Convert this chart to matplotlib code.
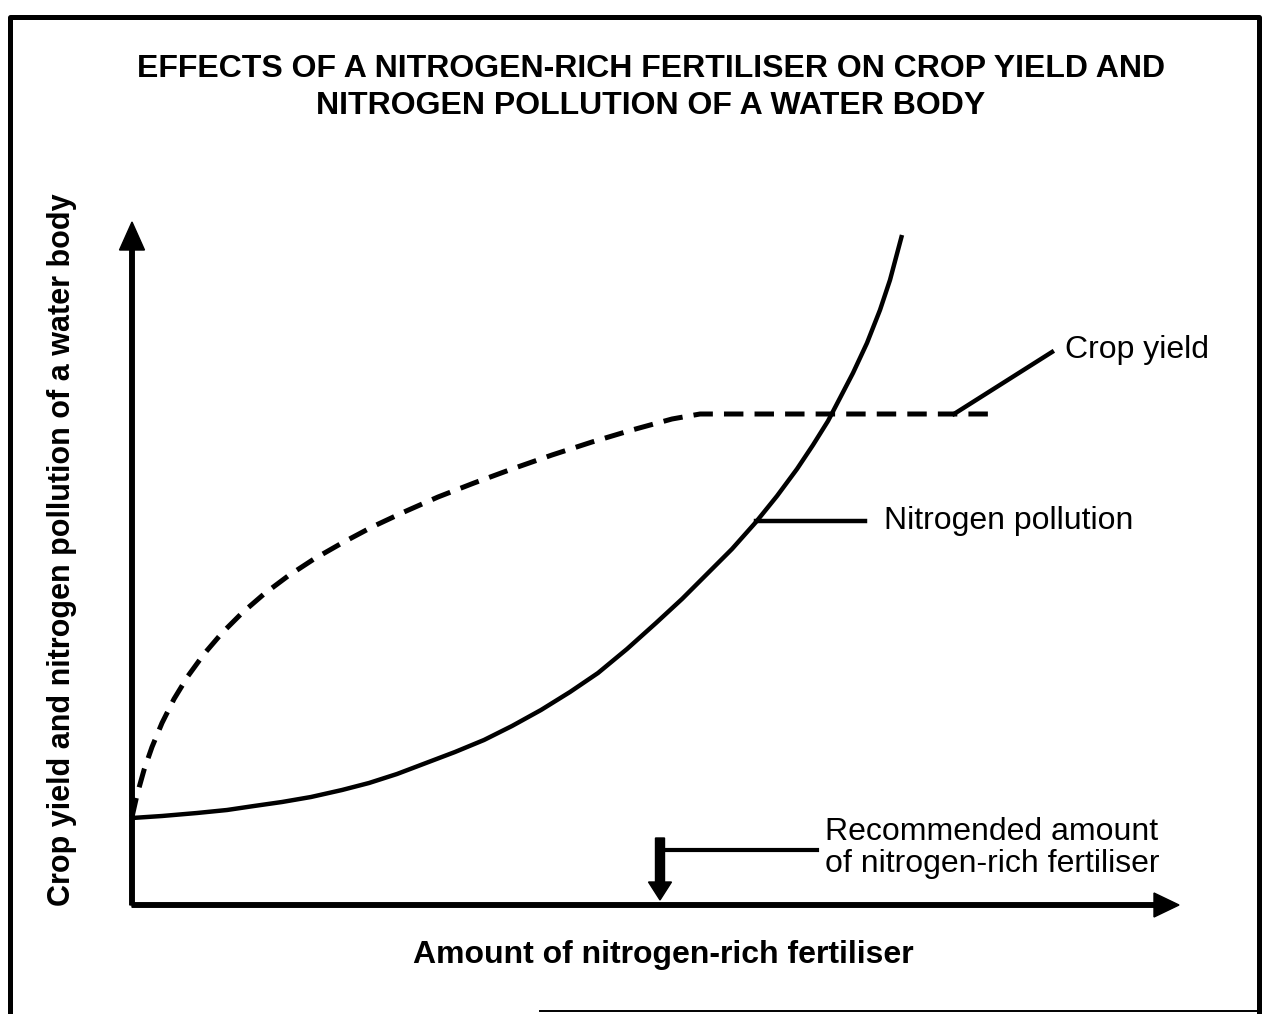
import matplotlib
matplotlib.use("Agg")
import matplotlib.pyplot as plt
from matplotlib.lines import Line2D

plt.rcParams["font.family"] = ["Liberation Sans", "DejaVu Sans"]
plt.rcParams["lines.scale_dashes"] = False

# curve values (amount of fertiliser, level)
pollution_x = [0.0, 3.0, 6.5, 9.5, 12.2, 15.0, 17.9, 21.0, 23.7, 26.5, 29.4,
               32.3, 35.2, 38.0, 40.9, 43.8, 46.6, 49.5, 52.4, 55.0, 57.5,
               60.0, 62.4, 64.5, 66.5, 68.1, 69.6, 70.8, 72.1, 73.5, 74.8,
               75.8, 77.0]
pollution_y = [8.7, 8.9, 9.2, 9.5, 9.9, 10.3, 10.8, 11.5, 12.2, 13.1, 14.2,
               15.3, 16.5, 17.9, 19.5, 21.3, 23.2, 25.6, 28.2, 30.6, 33.1,
               35.6, 38.3, 40.9, 43.6, 46.0, 48.4, 50.7, 53.2, 56.2, 59.5,
               62.5, 67.0]

yield_x = [0.0, 0.5, 1.2, 2.0, 3.0, 4.2, 5.6, 7.2, 9.0, 11.0, 13.2, 15.6,
           18.2, 21.0, 24.0, 27.2, 30.6, 34.2, 38.0, 42.0, 46.0, 50.0, 54.0,
           56.8, 86.3]
yield_y = [8.8, 11.0, 13.5, 15.8, 18.2, 20.6, 22.9, 25.1, 27.2, 29.2, 31.1,
           32.9, 34.6, 36.2, 37.8, 39.3, 40.8, 42.2, 43.6, 45.0, 46.3, 47.5,
           48.6, 49.1, 49.1]

recommended_x = 52.8
x_axis_end = 104.7
y_axis_end = 68.3

title = "EFFECTS OF A NITROGEN-RICH FERTILISER ON CROP YIELD AND\nNITROGEN POLLUTION OF A WATER BODY"
x_label = "Amount of nitrogen-rich fertiliser"
y_label = "Crop yield and nitrogen pollution of a water body"

fig = plt.figure(figsize=(12.69, 10.14), dpi=100)
ax = fig.add_axes([0, 0, 1, 1])
ax.set_xlim(-13.2, 113.7)
ax.set_ylim(-10.9, 90.5)
ax.axis("off")

# axes with arrow heads
ax.arrow(0, 0, 0, y_axis_end, width=0.45, head_width=2.5, head_length=2.8,
         length_includes_head=True, color="black")
ax.arrow(0, 0, x_axis_end, 0, width=0.45, head_width=2.4, head_length=2.5,
         length_includes_head=True, color="black")

# curves
ax.plot(pollution_x, pollution_y, color="black", lw=3.2,
        solid_joinstyle="round", solid_capstyle="butt")
ax.plot(yield_x, yield_y, color="black", lw=3.6, dashes=(14, 8))

# recommended amount marker
ax.arrow(recommended_x, 6.7, 0, -6.2, width=0.9, head_width=2.3,
         head_length=1.8, length_includes_head=True, color="black")
ax.plot([recommended_x + 0.6, 68.5], [5.5, 5.5], color="black", lw=3.0)
ax.text(69.3, 5.7, "Recommended amount\nof nitrogen-rich fertiliser",
        fontsize=23, ha="left", va="center", linespacing=1.1)

# leader lines
ax.plot([82.2, 92.0], [49.1, 55.3], color="black", lw=3.2)
ax.text(93.3, 55.5, "Crop yield", fontsize=23, ha="left", va="center")
ax.plot([62.4, 73.3], [38.4, 38.4], color="black", lw=3.2)
ax.text(75.2, 38.4, "Nitrogen pollution", fontsize=23, ha="left", va="center")

fig.text(0.513, 0.914, title, fontsize=23, fontweight="bold",
         ha="center", va="center", linespacing=1.3)
fig.text(0.523, 0.058, x_label, fontsize=23, fontweight="bold",
         ha="center", va="center")
fig.text(0.049, 0.458, y_label, fontsize=22, fontweight="bold",
         ha="center", va="center", rotation=90)

# frame around the whole picture
W, H = 1269.0, 1014.0
frame_x = [10 / W, 10 / W, 1259 / W, 1259 / W]
frame_y = [0.0, 1 - 17 / H, 1 - 17 / H, 0.0]
fig.add_artist(Line2D(frame_x, frame_y, color="black", lw=3.6,
                      transform=fig.transFigure, solid_joinstyle="round"))
fig.add_artist(Line2D([540 / W, 1259 / W], [1 - 1011 / H, 1 - 1011 / H],
                      color="black", lw=1.4, transform=fig.transFigure))

fig.savefig("out.png", dpi=100, facecolor="white")
